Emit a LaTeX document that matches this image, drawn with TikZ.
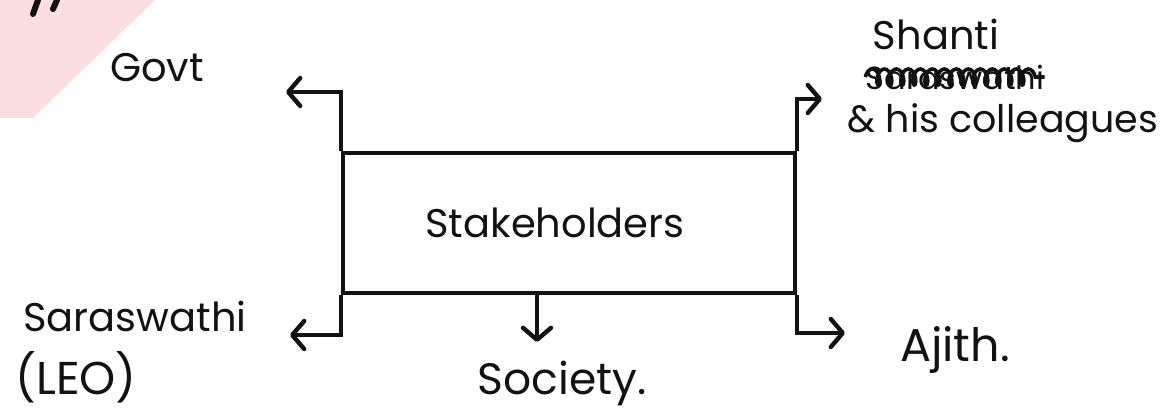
\documentclass[tikz,border=0pt]{standalone}
\usepackage{fontspec}
\setmainfont{Poppins}
\usetikzlibrary{positioning,arrows.meta,decorations.pathmorphing}
\definecolor{inkline}{RGB}{18,18,18}
\definecolor{markfill}{RGB}{251,222,224}
\newcommand{\handsize}[1]{\fontsize{#1}{#1}\selectfont}

\begin{document}
\begin{tikzpicture}[
  x=0.5pt, y=-0.5pt, color=inkline,
  hand/.style={font=\handsize{20}, text=inkline, inner sep=0pt},
  stakebox/.style={draw=inkline, line width=2.2pt, minimum width=226pt, minimum height=70pt, font=\handsize{20}},
  arr/.style={-{Straight Barb[length=6pt, width=14pt, round]}, line width=2.2pt},
  scrib/.style={line width=1.8pt, decorate, decoration={coil, amplitude=4pt, segment length=6pt}}]
\useasboundingbox (0,0) rectangle (1167,410);

% ---- page marks ----
\fill[markfill] (0,0) -- (155,0) -- (33,118) -- (0,118) -- cycle;
\draw[line width=3pt, line cap=round] (33,14) -- (38,0) (53,9) -- (57,0);

% ---- the box ----
\node[stakebox] (stake) at (569,223) {\hspace*{-14pt}Stakeholders};

% ---- who ----
\node[hand] (govt) at (157,68) {Govt};
\node[hand] (shanti) at (936,34) {Shanti};
\node[hand, font=\handsize{16}] (struck) at (955,77) {Saraswathi};
\node[hand, font=\handsize{19}] (coll) at (1003,123) {\& his colleagues};
\node[hand] (saras) at (135,316) {Saraswathi};
\node[hand, font=\handsize{23}] (leo) at (76,377) {(LEO)};
\node[hand, font=\handsize{22}] (soc) at (562,383) {Society.};
\node[hand, font=\handsize{23}] (ajith) at (955,350) {Ajith.};

\draw[scrib] (struck.west) -- (struck.east);

% ---- arrow ends ----
\coordinate (govtend) at (286,92);
\coordinate (shantiend) at (822,99);
\coordinate (sarasend) at (290,335);
\coordinate (socend) at (537,342);
\coordinate (ajithend) at (845,333);

\draw[arr] (stake.north west) |- (govtend);
\draw[arr] (stake.north east) |- (shantiend);
\draw[arr] (stake.south west) |- (sarasend);
\draw[arr] (socend |- stake.south) -- (socend);
\draw[arr] (stake.south east) |- (ajithend);
\end{tikzpicture}
\end{document}
